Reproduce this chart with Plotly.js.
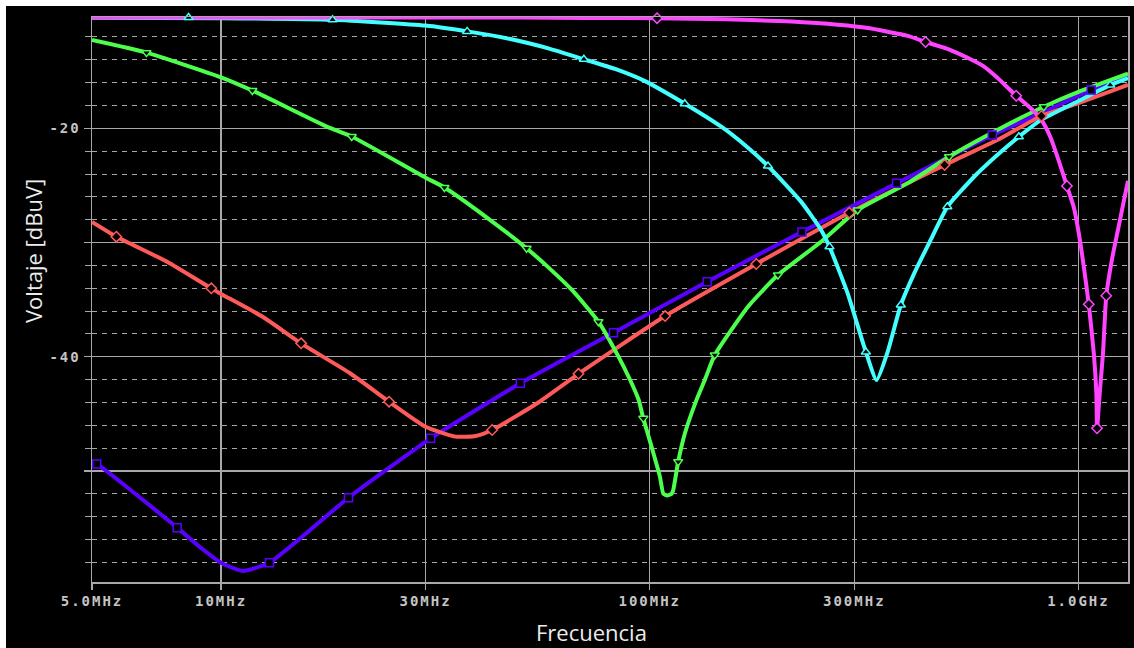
<!DOCTYPE html>
<html>
<head>
<meta charset="utf-8">
<script src="https://cdn.plot.ly/plotly-3.0.1.min.js"></script>
<style>
html,body{margin:0;padding:0;background:#fff;}
.xtick text,.ytick text{letter-spacing:2px;}
</style>
</head>
<body>
<div id="chart" style="width:1134px;height:648px;"></div>
<script>
// ---- data (frequency in MHz, voltage in dBuV) ----
const freqMag = [5, 20, 50, 70, 104, 150, 200, 250, 320, 400, 440, 500, 550, 600, 646, 716, 773, 820, 860, 899, 940, 975, 1002, 1029, 1057, 1086, 1101, 1105, 1121, 1141, 1161, 1197, 1241, 1285, 1305];
const dbMag   = [-10.3, -10.3, -10.3, -10.33, -10.35, -10.45, -10.6, -10.8, -11.2, -11.9, -12.44, -13.1, -13.8, -14.55, -15.55, -17.15, -18.22, -19.27, -20.76, -22.8, -25.05, -26.9, -29.2, -32.1, -35.4, -39.7, -43.2, -46.3, -43.2, -39.7, -34.7, -31.5, -28.6, -25.8, -24.6];

const freqCyan = [5, 10, 18.2, 30, 37.5, 47.3, 58, 70.2, 83, 96.9, 120.7, 146.9, 169.5, 188.7, 225.6, 251, 262.6, 289.5, 319.3, 338.2, 358.7, 385.2, 413.9, 452, 494.6, 571, 646.6, 726, 815, 1000, 1186, 1305];
const dbCyan   = [-10.32, -10.35, -10.49, -11.0, -11.51, -12.18, -13.0, -13.95, -14.8, -15.82, -17.84, -19.86, -21.7, -23.3, -26.44, -28.9, -30.37, -34.45, -39.59, -42.04, -39.59, -35.47, -32.7, -29.78, -26.87, -24.24, -22.34, -20.74, -19.3, -17.6, -16.21, -15.6];

const freqGreen = [5, 6.7, 10, 11.83, 17.65, 20.17, 30, 33.2, 42, 51.6, 58.1, 66, 75.9, 84, 90, 94.2, 96.6, 101, 105.6, 107.6, 109.9, 112.4, 113.4, 116.5, 120.8, 128.5, 134.4, 141.8, 169.5, 199.1, 251, 305.5, 400, 499, 646.6, 830, 1000, 1305];
const dbGreen   = [-12.27, -13.37, -15.53, -16.69, -19.85, -20.72, -24.32, -25.18, -27.9, -30.5, -32.2, -34.2, -36.93, -39.8, -42.04, -43.77, -45.4, -47.9, -50.5, -52.0, -52.15, -52.0, -51.7, -49.19, -46.7, -43.8, -42.04, -39.85, -35.62, -32.85, -29.93, -27.15, -24.8, -22.49, -20.15, -18.11, -16.8, -15.2];

const freqRed = [5, 5.7, 7.5, 9.49, 10, 12.5, 15.37, 20, 24.66, 30, 35.24, 39.25, 42.9, 55.1, 68.2, 108.6, 177.2, 292.1, 487.4, 646.6, 819.6, 1000, 1305];
const dbRed   = [-28.2, -29.49, -31.7, -34.01, -34.5, -36.5, -38.83, -41.45, -43.94, -46.13, -47.0, -46.94, -46.42, -43.99, -41.5, -36.44, -31.88, -27.39, -23.21, -21.02, -18.92, -17.8, -16.2];

const freqBlue = [5, 5.13, 7.9, 8.91, 10.05, 11.24, 12.97, 19.83, 30.83, 49.9, 82.3, 136.1, 226.4, 376.5, 629.5, 820, 1071, 1305];
const dbBlue   = [-49.3, -49.4, -54.97, -56.64, -58.09, -58.76, -58.04, -52.35, -47.15, -42.33, -37.9, -33.43, -29.08, -24.82, -20.59, -18.66, -16.65, -15.5];

// marker positions
const mkFreqMag = [104, 440, 716, 940, 1057, 1105, 1161];
const mkDbMag   = [-10.35, -12.44, -17.15, -25.05, -35.41, -46.27, -34.66];
const mkFreqCyan = [8.4, 18.2, 37.5, 70.2, 120.7, 188.7, 262.6, 319.3, 385.2, 494.6, 726, 1186];
const mkDbCyan   = [-10.3, -10.49, -11.51, -13.95, -17.84, -23.3, -30.37, -39.59, -35.47, -26.87, -20.74, -16.21];
const mkFreqGreen = [6.7, 11.83, 20.17, 33.2, 51.6, 75.9, 96.6, 116.5, 141.8, 199.1, 305.5, 499, 830];
const mkDbGreen   = [-13.37, -16.69, -20.72, -25.18, -30.5, -36.93, -45.4, -49.19, -39.85, -32.85, -27.15, -22.49, -18.11];
const mkFreqRed = [5.7, 9.49, 15.37, 24.66, 42.9, 68.2, 108.6, 177.2, 292.1, 487.4, 819.6];
const mkDbRed   = [-29.49, -34.01, -38.83, -43.94, -46.42, -41.5, -36.44, -31.88, -27.39, -23.21, -18.92];
const mkFreqBlue = [5.13, 7.9, 12.97, 19.83, 30.83, 49.9, 82.3, 136.1, 226.4, 376.5, 629.5, 1071];
const mkDbBlue   = [-49.4, -54.97, -58.04, -52.35, -47.15, -42.33, -37.9, -33.43, -29.08, -24.82, -20.59, -16.65];

const xTickVals = [5, 10, 30, 100, 300, 1000];
const xTickText = ['5.0MHz', '10MHz', '30MHz', '100MHz', '300MHz', '1.0GHz'];
const yTickVals = [-60, -50, -40, -30, -20, -10];
const yTickText = ['', '', '-40', '', '-20', ''];

const series = [
  {f: freqBlue,  v: dbBlue,  mf: mkFreqBlue,  mv: mkDbBlue,  c: '#5a00ff', s: 'square'},
  {f: freqRed,   v: dbRed,   mf: mkFreqRed,   mv: mkDbRed,   c: '#ff5a5a', s: 'diamond'},
  {f: freqGreen, v: dbGreen, mf: mkFreqGreen, mv: mkDbGreen, c: '#4cff4c', s: 'triangle-down'},
  {f: freqCyan,  v: dbCyan,  mf: mkFreqCyan,  mv: mkDbCyan,  c: '#44ffff', s: 'triangle-up'},
  {f: freqMag,   v: dbMag,   mf: mkFreqMag,   mv: mkDbMag,   c: '#ff44ff', s: 'diamond'}
];

const traces = [];
series.forEach(s => {
  traces.push({x: s.f, y: s.v, type: 'scatter', mode: 'lines',
    line: {color: s.c, width: 4, shape: 'spline', smoothing: 0.5}, hoverinfo: 'skip', showlegend: false});
});
series.forEach(s => {
  traces.push({x: s.mf, y: s.mv, type: 'scatter', mode: 'markers',
    marker: {symbol: s.s, size: 8, color: '#000', line: {color: s.c, width: 1.5}},
    hoverinfo: 'skip', showlegend: false, cliponaxis: false});
});

const grid = '#a8a8a8';
const tickFont = {family: 'DejaVu Sans Mono', size: 14, color: '#c4c4c4', weight: 'bold'};

const layout = {
  width: 1134, height: 648,
  margin: {l: 92, r: 6, t: 17, b: 66},
  paper_bgcolor: '#000',
  plot_bgcolor: '#000',
  showlegend: false,
  xaxis: {
    type: 'log',
    range: [Math.log10(5), Math.log10(1305)],
    tickmode: 'array', tickvals: xTickVals, ticktext: xTickText,
    ticks: 'outside', ticklen: 6, tickcolor: grid, tickwidth: 1.5,
    showgrid: true, gridcolor: grid, gridwidth: 1.5,
    showline: true, linecolor: grid, linewidth: 1.5, mirror: true,
    zeroline: false, tickfont: tickFont
  },
  yaxis: {
    range: [-59.73, -10.25],
    tickmode: 'array', tickvals: yTickVals, ticktext: yTickText,
    ticks: 'outside', ticklen: 7, tickcolor: grid, tickwidth: 1.5,
    showgrid: true, gridcolor: grid, gridwidth: 1.5,
    showline: true, linecolor: grid, linewidth: 1.5, mirror: true,
    zeroline: false, tickfont: tickFont,
    minor: {dtick: 2, tick0: 0, ticks: 'outside', ticklen: 6, tickcolor: grid, tickwidth: 1,
            showgrid: true, gridcolor: grid, gridwidth: 1, griddash: '5px,5px'}
  },
  shapes: [
    {type: 'rect', xref: 'paper', yref: 'paper', x0: -0.1, x1: (6 - 92) / 1036, y0: -0.2, y1: 1.1,
     fillcolor: '#fff', line: {width: 0}, layer: 'below'},
    {type: 'rect', xref: 'paper', yref: 'paper', x0: -0.1, x1: 1.1, y0: 1 + (17 - 6) / 565, y1: 1.1,
     fillcolor: '#fff', line: {width: 0}, layer: 'below'}
  ],
  annotations: [
    {text: 'Voltaje [dBuV]', xref: 'paper', yref: 'paper', x: (33 - 92) / 1036, y: (582 - 251) / 565,
     xanchor: 'center', yanchor: 'middle', textangle: -90, showarrow: false,
     font: {family: 'Open Sans', size: 22, color: '#ececec'}},
    {text: 'Frecuencia', xref: 'paper', yref: 'paper', x: (591 - 92) / 1036, y: (582 - 632) / 565,
     xanchor: 'center', yanchor: 'middle', showarrow: false,
     font: {family: 'Open Sans', size: 22, color: '#ececec'}}
  ]
};

Plotly.newPlot('chart', traces, layout, {displayModeBar: false, staticPlot: true});
</script>
</body>
</html>
